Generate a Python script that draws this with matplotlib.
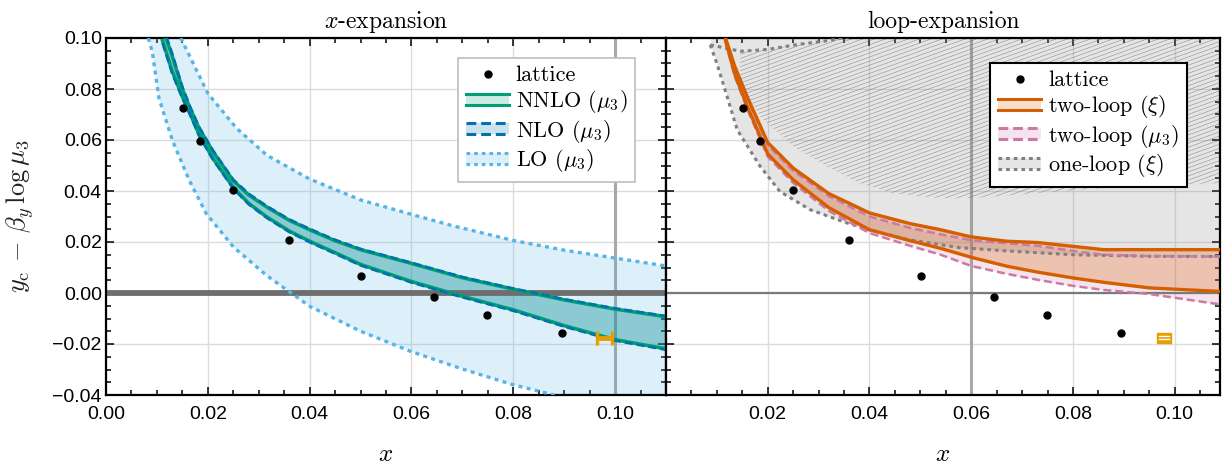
import numpy as np
import matplotlib
matplotlib.use("Agg")
import matplotlib.pyplot as plt
from matplotlib.lines import Line2D
from matplotlib.patches import Patch, Rectangle, Polygon
from matplotlib.collections import LineCollection
from matplotlib.legend_handler import HandlerBase
from matplotlib.ticker import MultipleLocator, FuncFormatter

plt.rcParams["font.family"] = "serif"
plt.rcParams["font.serif"] = ["cmr10", "DejaVu Serif"]
plt.rcParams["mathtext.fontset"] = "cm"
plt.rcParams["axes.formatter.use_mathtext"] = True

# ---- data ----
lattice_x = [0.0152, 0.0184, 0.0250, 0.0360, 0.0501, 0.0644, 0.0749, 0.0895]
lattice_y = [0.0725, 0.0595, 0.0402, 0.0207, 0.0068, -0.0016, -0.0085, -0.0157]
lattice_xerr = [0.0006, 0.0005, 0.0005, 0.0005, 0.0004, 0.0004, 0.0004, 0.0004]

cont_x = [0.0979]
cont_y = [-0.0175]
cont_xerr = [0.0014]
cont_yerr = [0.0020]

# x-expansion
nnlo_x = [0.0111, 0.013, 0.015, 0.0165, 0.0183, 0.021, 0.025, 0.028, 0.0316, 0.036,
          0.040, 0.045, 0.050, 0.060, 0.070, 0.080, 0.090, 0.100, 0.110]
nnlo_hi = [0.104, 0.093, 0.080, 0.0725, 0.0645, 0.0555, 0.0440, 0.0385, 0.0337, 0.0285,
           0.0248, 0.0205, 0.0170, 0.0116, 0.0060, 0.0015, -0.0027, -0.0063, -0.0093]
nnlo_lo = [0.099, 0.087, 0.0770, 0.0705, 0.0621, 0.0528, 0.0414, 0.0352, 0.0298, 0.0243,
           0.0203, 0.0158, 0.0112, 0.0045, -0.0013, -0.0066, -0.0128, -0.0183, -0.0219]
nlo_hi = [0.105, 0.094, 0.081, 0.0732, 0.0651, 0.0560, 0.0445, 0.0390, 0.0341, 0.0289,
          0.0252, 0.0209, 0.0173, 0.0119, 0.0063, 0.0018, -0.0024, -0.0060, -0.0090]
nlo_lo = [0.098, 0.086, 0.0763, 0.0699, 0.0615, 0.0523, 0.0409, 0.0348, 0.0294, 0.0239,
          0.0199, 0.0154, 0.0108, 0.0041, -0.0017, -0.0070, -0.0132, -0.0187, -0.0223]
lo_hi_x = [0.0147, 0.020, 0.0256, 0.0316, 0.040, 0.050, 0.0606, 0.068, 0.080, 0.090, 0.100, 0.110]
lo_hi = [0.100, 0.0783, 0.0647, 0.0540, 0.0447, 0.0365, 0.0305, 0.0264, 0.0206, 0.0168, 0.0137, 0.0106]
lo_lo_x = [0.0083, 0.0091, 0.0104, 0.0131, 0.0164, 0.0197, 0.025, 0.0316, 0.040, 0.050,
           0.060, 0.070, 0.080, 0.090, 0.100, 0.110]
lo_lo = [0.100, 0.0945, 0.0764, 0.0595, 0.044, 0.0311, 0.0181, 0.0068, -0.0052, -0.0150,
         -0.0230, -0.0298, -0.0360, -0.0410, -0.0450, -0.0485]

# loop-expansion
tl_x = [0.0117, 0.0135, 0.016, 0.020, 0.025, 0.032, 0.040, 0.048, 0.054, 0.060,
        0.067, 0.073, 0.080, 0.086, 0.095, 0.109]
tlxi_hi = [0.100, 0.089, 0.0768, 0.0590, 0.0490, 0.0390, 0.0314, 0.0272, 0.0248, 0.0220,
           0.0203, 0.0198, 0.0183, 0.0170, 0.0170, 0.0170]
tlxi_lo = [0.099, 0.086, 0.0730, 0.0545, 0.0444, 0.0335, 0.0248, 0.0205, 0.0175, 0.0140,
           0.0105, 0.0082, 0.0059, 0.0042, 0.0020, 0.0006]
tlmu_hi = [0.100, 0.088, 0.0760, 0.0580, 0.0480, 0.0380, 0.0300, 0.0255, 0.0230, 0.0207,
           0.0195, 0.0185, 0.0165, 0.0150, 0.0145, 0.0143]
tlmu_lo = [0.0985, 0.085, 0.0720, 0.0535, 0.0432, 0.0322, 0.0235, 0.0185, 0.0150, 0.0106,
           0.0075, 0.0052, 0.0028, 0.0012, -0.0004, -0.0045]
ol_lo_x = [0.0087, 0.010, 0.012, 0.014, 0.0185, 0.0224, 0.0283, 0.0355, 0.040, 0.0477,
           0.0577, 0.067, 0.080, 0.095, 0.109]
ol_lo = [0.0973, 0.090, 0.0771, 0.064, 0.0497, 0.0398, 0.0327, 0.0275, 0.0248, 0.0209,
         0.0178, 0.0165, 0.0150, 0.0144, 0.0143]
ol_hi_x = [0.0087, 0.0146, 0.020, 0.026, 0.032, 0.036, 0.045, 0.060, 0.109]
ol_hi = [0.0973, 0.0948, 0.0955, 0.0975, 0.0990, 0.1005, 0.1040, 0.1090, 0.1200]
hatch_x = [0.0146, 0.0185, 0.025, 0.0316, 0.038, 0.0446, 0.0537, 0.060, 0.073, 0.086, 0.100, 0.109]
hatch_lo = [0.0824, 0.0693, 0.0575, 0.0497, 0.0431, 0.0392, 0.0372, 0.0372, 0.0392, 0.0412, 0.0425, 0.0431]

GREEN = "#009e73"; BLUE = "#0072b2"; SKY = "#56b4e9"
ORANGE = "#d55e00"; PINK = "#cc79a7"; GREY = "#808080"; AMBER = "#e69f00"
DOT = (0, (1.2, 1.3)); DASH = (0, (3.2, 1.6))
YMIN, YMAX = -0.04, 0.10


class BandHandler(HandlerBase):
    def create_artists(self, legend, orig, xd, yd, w, h, fs, trans):
        x0, y0 = -xd, -yd
        rect = Rectangle((x0, y0 + 0.15 * h), w, 0.7 * h, fc=orig.get_facecolor(), ec="none", transform=trans)
        arts = [rect]
        for f in (0.15, 0.85):
            arts.append(Line2D([x0, x0 + w], [y0 + f * h] * 2, color=orig.get_edgecolor(),
                               ls=orig.get_linestyle(), lw=orig.get_linewidth(), transform=trans))
        return arts


def band_handle(color, ls):
    return Patch(facecolor=matplotlib.colors.to_rgba(color, 0.2), edgecolor=color, linestyle=ls, linewidth=2.2)


def fmt(v, pos):
    if abs(v) < 1e-9:
        return "0.00"
    return f"{v:.2f}".replace("-", "\u2212")


def fmt_r(v, pos):
    return "" if abs(v) < 1e-9 else fmt(v, pos)


def style(ax, xmax, fmtx, ylabels):
    ax.set_xlim(0, xmax); ax.set_ylim(YMIN, YMAX)
    ax.xaxis.set_major_locator(MultipleLocator(0.02)); ax.xaxis.set_minor_locator(MultipleLocator(0.005))
    ax.yaxis.set_major_locator(MultipleLocator(0.02)); ax.yaxis.set_minor_locator(MultipleLocator(0.005))
    ax.xaxis.set_major_formatter(FuncFormatter(fmtx))
    ax.yaxis.set_major_formatter(FuncFormatter(fmt))
    ax.tick_params(which="both", direction="in", top=True, right=True, width=1.1, color="k",
                   labelsize=14, labelfontfamily="Liberation Sans", labelleft=ylabels)
    ax.tick_params(axis="x", pad=8)
    ax.tick_params(axis="y", pad=3)
    ax.tick_params(which="major", length=5.5)
    ax.tick_params(which="minor", length=3.5)
    ax.grid(True, which="major", color="#dcdcdc", lw=1.0)
    ax.set_axisbelow(True)
    for s in ax.spines.values():
        s.set_linewidth(1.6); s.set_color("k")


fig = plt.figure(figsize=(12.22, 4.70), dpi=100)
axL = fig.add_axes([106 / 1222, 75 / 470, 560 / 1222, 357 / 470])
axR = fig.add_axes([666 / 1222, 75 / 470, 554 / 1222, 357 / 470])
style(axL, 0.11, fmt, True)
style(axR, 0.1089, fmt_r, False)

# ---- left: x-expansion ----
axL.axvline(0.10, color="#a8a8a8", lw=2.2, zorder=0.8)
axL.fill(np.r_[lo_hi_x, lo_lo_x[::-1]], np.r_[lo_hi, lo_lo[::-1]], color=SKY, alpha=0.2, lw=0, zorder=1)
axL.fill_between(nnlo_x, nlo_lo, nlo_hi, color=BLUE, alpha=0.2, lw=0, zorder=1.2)
axL.fill_between(nnlo_x, nnlo_lo, nnlo_hi, color=GREEN, alpha=0.2, lw=0, zorder=1.4)
axL.axhline(0, color="#6e6e6e", lw=4.2, zorder=2.5)
axL.plot(lo_hi_x, lo_hi, color=SKY, ls=DOT, lw=2.4, zorder=3)
axL.plot(lo_lo_x, lo_lo, color=SKY, ls=DOT, lw=2.4, zorder=3)
for yy in (nnlo_hi, nnlo_lo):
    axL.plot(nnlo_x, yy, color=GREEN, lw=2.6, zorder=3.2)
for yy in (nlo_hi, nlo_lo):
    axL.plot(nnlo_x, yy, color=BLUE, ls=DASH, lw=1.8, zorder=3.3)
axL.errorbar(lattice_x, lattice_y, xerr=lattice_xerr, fmt="o", color="k", ecolor="#1f4f8f",
             ms=5, elinewidth=1.5, capsize=0, zorder=5)
axL.errorbar(cont_x, cont_y, xerr=cont_xerr, fmt="none", ecolor=AMBER, elinewidth=3.5,
             capsize=5, capthick=2.4, zorder=5)
axL.set_title(r"$x$-expansion", fontsize=17, pad=7)

hL = [Line2D([], [], marker="o", color="k", ls="none", ms=5),
      band_handle(GREEN, "-"), band_handle(BLUE, DASH), band_handle(SKY, DOT)]
legL = axL.legend(hL, ["lattice", r"NNLO ($\mu_3$)", r"NLO ($\mu_3$)", r"LO ($\mu_3$)"],
                  handler_map={Patch: BandHandler()}, loc="upper right", bbox_to_anchor=(0.945, 0.944),
                  fontsize=16, handlelength=1.95, handletextpad=0.3, borderpad=0.35, labelspacing=0.12,
                  fancybox=False, framealpha=1, edgecolor="#bdbdbd", borderaxespad=0)
legL.get_frame().set_linewidth(1.2)
legL.set_zorder(10)

# ---- right: loop-expansion ----
axR.axvline(0.06, color="#a8a8a8", lw=2.2, zorder=0.8)
axR.fill_between(ol_lo_x, ol_lo, 0.13, color=GREY, alpha=0.2, lw=0, zorder=1)
sel = np.asarray(ol_hi_x) >= hatch_x[0]
top = np.minimum(np.asarray(ol_hi)[sel], YMAX)
poly = Polygon(np.c_[np.r_[hatch_x, np.asarray(ol_hi_x)[sel][::-1]],
                     np.r_[hatch_lo, top[::-1]]],
               closed=True, fc="none", ec="none", zorder=1.1)
axR.add_patch(poly)
segs = [[(0, c), (1, c + 0.56)] for c in np.arange(-0.8, 1.0, 0.0115)]
lc = LineCollection(segs, colors="#6a6a6a", linewidths=0.4, alpha=0.7,
                    transform=axR.transAxes, zorder=1.1)
lc.set_clip_path(poly)
axR.add_collection(lc)
axR.fill_between(tl_x, tlmu_lo, tlmu_hi, color=PINK, alpha=0.2, lw=0, zorder=1.3)
axR.fill_between(tl_x, tlxi_lo, tlxi_hi, color=ORANGE, alpha=0.25, lw=0, zorder=1.4)
axR.axhline(0, color="#7a7a7a", lw=1.6, zorder=2.5)
axR.plot(ol_lo_x, ol_lo, color=GREY, ls=DOT, lw=2.2, zorder=3)
axR.plot(ol_hi_x, ol_hi, color=GREY, ls=DOT, lw=2.2, zorder=3)
for yy in (tlmu_hi, tlmu_lo):
    axR.plot(tl_x, yy, color=PINK, ls=DASH, lw=1.8, zorder=3.1)
for yy in (tlxi_hi, tlxi_lo):
    axR.plot(tl_x, yy, color=ORANGE, lw=2.4, zorder=3.2)
axR.errorbar(lattice_x, lattice_y, xerr=lattice_xerr, fmt="o", color="k", ecolor="#1f4f8f",
             ms=5, elinewidth=1.5, capsize=0, zorder=5)
axR.add_patch(Rectangle((cont_x[0] - cont_xerr[0], cont_y[0] - cont_yerr[0]), 2 * cont_xerr[0],
                        2 * cont_yerr[0], fc=AMBER, ec=AMBER, lw=1, zorder=5))
for f in (-0.35, 0.35):
    axR.plot([cont_x[0] - 0.7 * cont_xerr[0], cont_x[0] + 0.7 * cont_xerr[0]],
             [cont_y[0] + f * cont_yerr[0]] * 2, color="white", lw=1, zorder=5.1)
axR.set_title("loop-expansion", fontsize=17, pad=7)

hR = [Line2D([], [], marker="o", color="k", ls="none", ms=5),
      band_handle(ORANGE, "-"), band_handle(PINK, DASH), band_handle(GREY, DOT)]
legR = axR.legend(hR, ["lattice", r"two-loop ($\xi$)", r"two-loop ($\mu_3$)", r"one-loop ($\xi$)"],
                  handler_map={Patch: BandHandler()}, loc="upper right", bbox_to_anchor=(0.94, 0.93),
                  fontsize=16, handlelength=1.95, handletextpad=0.3, borderpad=0.35, labelspacing=0.12,
                  fancybox=False, framealpha=1, edgecolor="k", borderaxespad=0)
legR.get_frame().set_linewidth(1.5)
legR.set_zorder(10)

fig.text(20 / 1222, 0.539, r"$y_{\rm c}\,-\,\beta_y\,\log\mu_3$", rotation=90, fontsize=19,
         ha="center", va="center", color="#222222")
fig.text(386 / 1222, 15 / 470, r"$x$", fontsize=18, ha="center", va="center")
fig.text(943 / 1222, 15 / 470, r"$x$", fontsize=18, ha="center", va="center")

fig.savefig("out.png", dpi=100, facecolor="white")
